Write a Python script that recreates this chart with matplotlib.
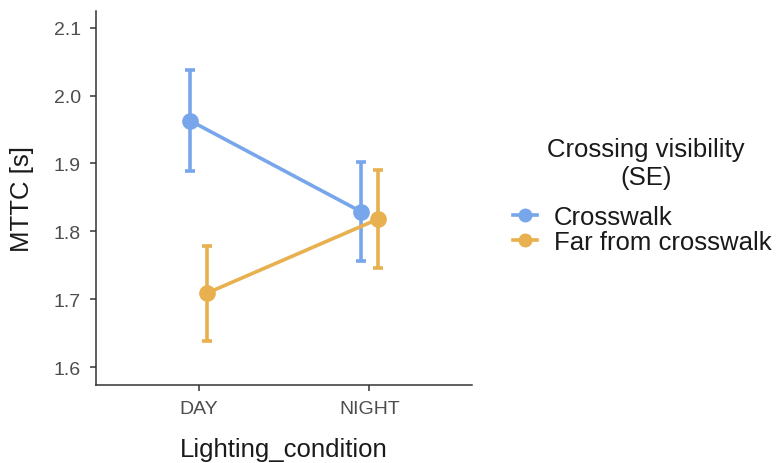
import matplotlib.pyplot as plt
from matplotlib.lines import Line2D

plt.rcParams['font.family'] = ['Liberation Sans', 'DejaVu Sans']

# Estimated marginal means of MTTC with standard errors
conditions = ["DAY", "NIGHT"]
groups = ["Crosswalk", "Far from crosswalk"]
means = {
    "Crosswalk": [1.963, 1.829],
    "Far from crosswalk": [1.709, 1.818],
}
upper = {
    "Crosswalk": [2.037, 1.902],
    "Far from crosswalk": [1.779, 1.890],
}
lower = {
    "Crosswalk": [1.889, 1.756],
    "Far from crosswalk": [1.638, 1.746],
}
colors = {"Crosswalk": "#78A6EA", "Far from crosswalk": "#E8B04E"}
dodge = {"Crosswalk": -0.05, "Far from crosswalk": 0.05}

fig = plt.figure(figsize=(7.81, 4.64), dpi=100)
ax = fig.add_axes([0.1229, 0.168, 0.4815, 0.806])

handles = []
for g in groups:
    xs = [i + 1 + dodge[g] for i in range(len(conditions))]
    m = means[g]
    err = [[a - b for a, b in zip(m, lower[g])], [b - a for a, b in zip(m, upper[g])]]
    ax.errorbar(xs, m, yerr=err, color=colors[g], lw=2.6, marker="o", ms=11,
                elinewidth=2.6, capsize=3.6, capthick=2.6)
    handles.append(Line2D([0], [0], color=colors[g], lw=2.6, marker="o", ms=9))

ax.set_xlim(0.4, 2.6)
ax.set_ylim(1.5735, 2.1244)
ax.set_xticks([1, 2])
ax.set_xticklabels(conditions)
ax.set_yticks([1.6, 1.7, 1.8, 1.9, 2.0, 2.1])
ax.set_yticklabels(["1.6", "1.7", "1.8", "1.9", "2.0", "2.1"])

for side in ["top", "right"]:
    ax.spines[side].set_visible(False)
for side in ["left", "bottom"]:
    ax.spines[side].set_linewidth(1.1)
    ax.spines[side].set_color("#333333")
ax.tick_params(axis="both", length=4, width=1.1, color="#333333",
               labelsize=14, labelcolor="#4D4D4D", pad=7)

ax.set_xlabel("Lighting_condition", fontsize=18.5, color="#1A1A1A", labelpad=14)
ax.set_ylabel("MTTC [s]", fontsize=18.5, color="#1A1A1A", labelpad=14)

# legend title drawn separately so its gap to the keys can be set freely
fig.text(646 / 781, 1 - 164 / 464, "Crossing visibility\n(SE)", fontsize=18.5,
         color="#1A1A1A", ha="center", va="center", multialignment="center",
         linespacing=1.25)
leg = fig.legend(handles, groups, loc="center left",
                 bbox_to_anchor=(513 / 781, 1 - 230.5 / 464),
                 frameon=False, fontsize=18.5, borderpad=0, borderaxespad=0,
                 handlelength=0.95, handletextpad=0.65, labelspacing=0.05)
for t in leg.get_texts():
    t.set_color("#1A1A1A")

fig.savefig("out.png", dpi=100)
